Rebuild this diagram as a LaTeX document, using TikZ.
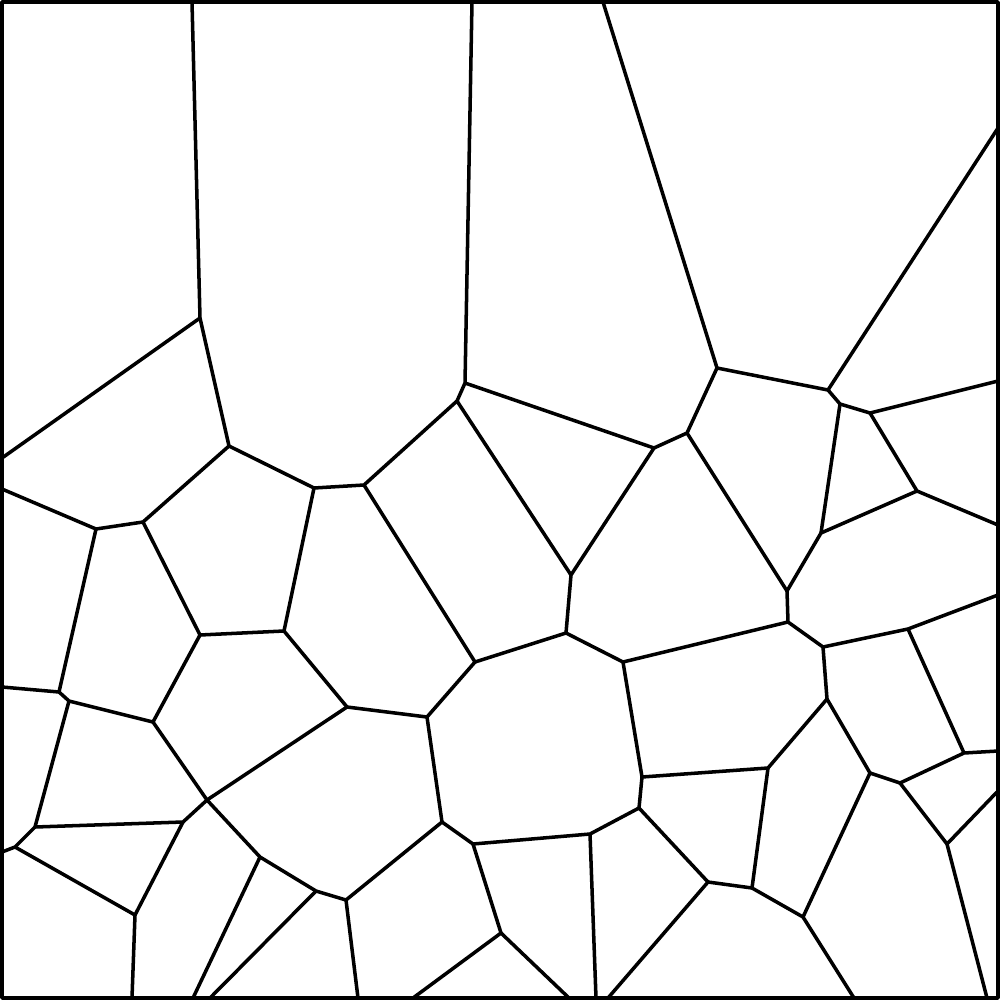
\documentclass[tikz,border=0pt]{standalone}
\usepackage{tikz}

\begin{document}
\begin{tikzpicture}[x=0.01cm, y=-0.01cm, line width=1pt, line join=round,
  cell/.style={draw=black}]
  \useasboundingbox (0,0) rectangle (1000,1000);
  % frame
  \draw[cell] (2,2) rectangle (998,998);
  % upper cells
  \draw[cell] (192,2) -- (200,318) -- (229,446) -- (314,488) -- (364,485)
    -- (457,401) -- (465,383) -- (472,2);
  \draw[cell] (2,458) -- (200,318);
  \draw[cell] (465,383) -- (654,448) -- (687,433) -- (717,368) -- (603,2);
  \draw[cell] (717,368) -- (828,390) -- (998,128);
  \draw[cell] (828,390) -- (840,404) -- (870,413) -- (998,381);
  \draw[cell] (870,413) -- (917,491) -- (998,525);
  \draw[cell] (917,491) -- (821,533) -- (787,591) -- (687,433);
  \draw[cell] (840,404) -- (821,533);
  % middle band
  \draw[cell] (787,591) -- (788,622) -- (823,647) -- (908,629) -- (998,595);
  \draw[cell] (788,622) -- (623,662) -- (566,633) -- (571,575) -- (654,448);
  \draw[cell] (571,575) -- (457,401);
  \draw[cell] (566,633) -- (475,662) -- (364,485);
  \draw[cell] (229,446) -- (143,522) -- (96,529) -- (2,489);
  \draw[cell] (143,522) -- (200,635) -- (284,631) -- (314,488);
  \draw[cell] (96,529) -- (59,692) -- (2,687);
  \draw[cell] (59,692) -- (69,701) -- (153,722) -- (200,635);
  \draw[cell] (284,631) -- (347,707) -- (427,717) -- (475,662);
  % lower left
  \draw[cell] (69,701) -- (35,827) -- (183,822) -- (207,800) -- (153,722);
  \draw[cell] (35,827) -- (15,847) -- (2,852);
  \draw[cell] (15,847) -- (135,915) -- (132,998);
  \draw[cell] (183,822) -- (135,915);
  \draw[cell] (207,800) -- (347,707);
  \draw[cell] (207,800) -- (260,857) -- (316,891) -- (346,900) -- (442,822)
    -- (427,717);
  \draw[cell] (260,857) -- (193,998);
  \draw[cell] (316,891) -- (210,998);
  \draw[cell] (346,900) -- (358,998);
  % lower middle
  \draw[cell] (442,822) -- (473,844) -- (590,834) -- (639,808) -- (642,777)
    -- (623,662);
  \draw[cell] (473,844) -- (501,933) -- (413,998);
  \draw[cell] (501,933) -- (569,998);
  \draw[cell] (590,834) -- (596,998);
  \draw[cell] (639,808) -- (708,882) -- (608,998);
  % lower right
  \draw[cell] (642,777) -- (768,768) -- (827,699) -- (823,647);
  \draw[cell] (768,768) -- (752,888) -- (708,882);
  \draw[cell] (752,888) -- (803,917) -- (854,998);
  \draw[cell] (803,917) -- (870,773) -- (827,699);
  \draw[cell] (870,773) -- (900,783) -- (964,753) -- (998,751);
  \draw[cell] (964,753) -- (908,629);
  \draw[cell] (900,783) -- (947,844) -- (997,792);
  \draw[cell] (947,844) -- (987,998);
\end{tikzpicture}
\end{document}
